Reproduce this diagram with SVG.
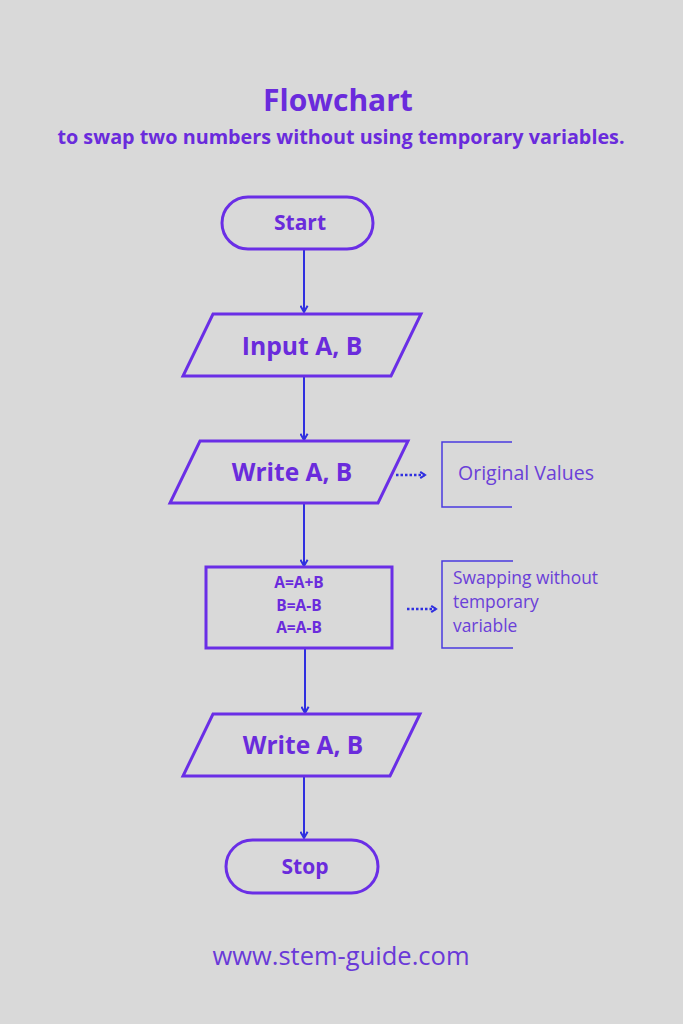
<svg xmlns="http://www.w3.org/2000/svg" width="683" height="1024" viewBox="0 0 683 1024">
<style>
.shape{fill:none;stroke:#6a2ee6;stroke-width:3;stroke-linejoin:miter}
.conn{stroke:#2f2fe0;stroke-width:2;fill:none}
.dot{stroke:#2f2fe0;stroke-width:2.5;fill:none;stroke-dasharray:2.5 2}
.brk{stroke:#4a3ae0;stroke-width:1.5;fill:none}
.lbl{font-family:"Open Sans","Liberation Sans",sans-serif;font-weight:bold;fill:#6a2bdc;text-anchor:middle}
.note{font-family:"Open Sans","Liberation Sans",sans-serif;fill:#6a40d8}
</style>
<defs>
<marker id="ah" viewBox="0 0 10 10" refX="8" refY="5" markerWidth="8" markerHeight="9" orient="auto" markerUnits="userSpaceOnUse">
<path d="M2,1 L8,5 L2,9" fill="none" stroke="#2f2fe0" stroke-width="2.5"/>
</marker>
<marker id="ah2" viewBox="0 0 10 10" refX="9" refY="5" markerWidth="9" markerHeight="9" orient="auto" markerUnits="userSpaceOnUse">
<path d="M2,1 L9,5 L2,9" fill="none" stroke="#2f2fe0" stroke-width="2.2"/>
</marker>
</defs>
<rect width="683" height="1024" fill="#d9d9d9"/>
<g id="title">
<text class="lbl" x="338" y="111" font-size="30">Flowchart</text>
<text class="lbl" x="341" y="144" font-size="19.8">to swap two numbers without using temporary variables.</text>
</g>
<g id="connectors">
<line class="conn" x1="304" y1="250" x2="304" y2="312" marker-end="url(#ah2)"/>
<line class="conn" x1="304" y1="377" x2="304" y2="440" marker-end="url(#ah2)"/>
<line class="conn" x1="304" y1="504" x2="304" y2="566" marker-end="url(#ah2)"/>
<line class="conn" x1="305" y1="649" x2="305" y2="713" marker-end="url(#ah2)"/>
<line class="conn" x1="304" y1="777" x2="304" y2="838" marker-end="url(#ah2)"/>
<line class="dot" x1="396" y1="475" x2="425" y2="475" marker-end="url(#ah)"/>
<line class="dot" x1="407" y1="609" x2="436" y2="609" marker-end="url(#ah)"/>
</g>
<g id="start">
<rect class="shape" x="222" y="197" width="151" height="52" rx="26"/>
<text class="lbl" x="300" y="230" font-size="21">Start</text>
</g>
<g id="input">
<polygon class="shape" points="213,314 421,314 391,376 183,376"/>
<text class="lbl" x="302" y="355" font-size="24.7">Input A, B</text>
</g>
<g id="write1">
<polygon class="shape" points="200,441 408,441 378,503 170,503"/>
<text class="lbl" x="292" y="481" font-size="24.5">Write A, B</text>
</g>
<g id="note1">
<polyline class="brk" points="512,442 442,442 442,507 512,507"/>
<text class="note" x="458" y="480" font-size="19.5">Original Values</text>
</g>
<g id="process">
<rect class="shape" x="206" y="567" width="186" height="81"/>
<text class="lbl" x="299" y="588" font-size="15.5">A=A+B</text>
<text class="lbl" x="299" y="611" font-size="15.5">B=A-B</text>
<text class="lbl" x="299" y="633" font-size="15.5">A=A-B</text>
</g>
<g id="note2">
<polyline class="brk" points="513,561 442,561 442,648 513,648"/>
<text class="note" x="453" y="584" font-size="17.4">Swapping without</text>
<text class="note" x="453" y="608" font-size="17.4">temporary</text>
<text class="note" x="453" y="632" font-size="17.4">variable</text>
</g>
<g id="write2">
<polygon class="shape" points="213,714 420,714 390,776 183,776"/>
<text class="lbl" x="303" y="754" font-size="24.5">Write A, B</text>
</g>
<g id="stop">
<rect class="shape" x="226" y="840" width="152" height="53" rx="26.5"/>
<text class="lbl" x="305" y="874" font-size="21">Stop</text>
</g>
<g id="footer">
<text x="341" y="965" font-size="25.5" font-family="'Open Sans','Liberation Sans',sans-serif" fill="#6a3ad8" text-anchor="middle">www.stem-guide.com</text>
</g>
</svg>
